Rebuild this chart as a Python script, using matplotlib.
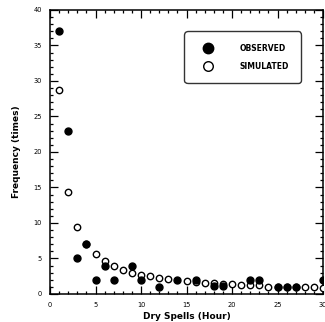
import matplotlib
matplotlib.use("Agg")
import matplotlib.pyplot as plt
from matplotlib.ticker import MultipleLocator

# Observed dry spells (filled markers)
obs_hours = [1, 2, 3, 4, 5, 6, 7, 9, 10, 12, 14, 16, 18, 19, 22, 23, 25, 26, 27, 30]
obs_freq = [37, 23, 5, 7, 2, 4, 2, 4, 2, 1, 2, 1.9, 1.1, 1.1, 2, 2, 1, 1, 1, 1.9]

# Simulated dry spells (open markers)
sim_hours = [1, 2, 3, 4, 5, 6, 7, 8, 9, 10, 11, 12, 13, 15, 16, 17, 18, 19, 20,
             21, 22, 23, 24, 25, 26, 27, 28, 29, 30]
sim_freq = [28.8, 14.3, 9.5, 7.0, 5.6, 4.7, 4.0, 3.4, 3.0, 2.7, 2.5, 2.3, 2.1, 1.8,
            1.7, 1.6, 1.5, 1.45, 1.35, 1.3, 1.3, 1.3, 1.05, 1.0, 1.0, 1.0, 0.95,
            0.95, 0.9]

fig = plt.figure(figsize=(3.25, 3.22), dpi=100)
ax = fig.add_axes([0.154, 0.087, 0.84, 0.882])

ax.plot(sim_hours, sim_freq, 'o', markersize=4.6, markerfacecolor='white',
        markeredgecolor='black', markeredgewidth=1.0, label='SIMULATED', zorder=3)
ax.plot(obs_hours, obs_freq, 'o', markersize=5.0, color='black',
        label='OBSERVED', zorder=4)

ax.set_xlim(0, 30)
ax.set_ylim(0, 40)
ax.xaxis.set_major_locator(MultipleLocator(5))
ax.xaxis.set_minor_locator(MultipleLocator(1))
ax.yaxis.set_major_locator(MultipleLocator(5))
ax.yaxis.set_minor_locator(MultipleLocator(1))
ax.tick_params(which='both', direction='in', top=True, right=True, labelsize=4.8, width=0.9, pad=6)
ax.tick_params(which='major', length=6)
ax.tick_params(which='minor', length=2.5)
for s in ax.spines.values():
    s.set_linewidth(1.1)

ax.set_xlabel("Dry Spells (Hour)", fontsize=6.5, fontweight='bold', labelpad=3)
ax.set_ylabel("Frequency (times)", fontsize=6.5, fontweight='bold', labelpad=9)

handles, labels = ax.get_legend_handles_labels()
leg = ax.legend(handles[::-1], labels[::-1], loc='upper left', bbox_to_anchor=(0.498, 0.919),
                borderaxespad=0, fancybox=True, frameon=True, edgecolor='black',
                prop={'size': 5.5, 'weight': 'bold'}, handletextpad=2.6,
                borderpad=1.4, labelspacing=1.2, markerscale=1.5, handlelength=3.0)
leg.get_frame().set_linewidth(1.0)
leg.get_frame().set_boxstyle('round,pad=0.2,rounding_size=0.4')

fig.savefig("out.png", dpi=100)
